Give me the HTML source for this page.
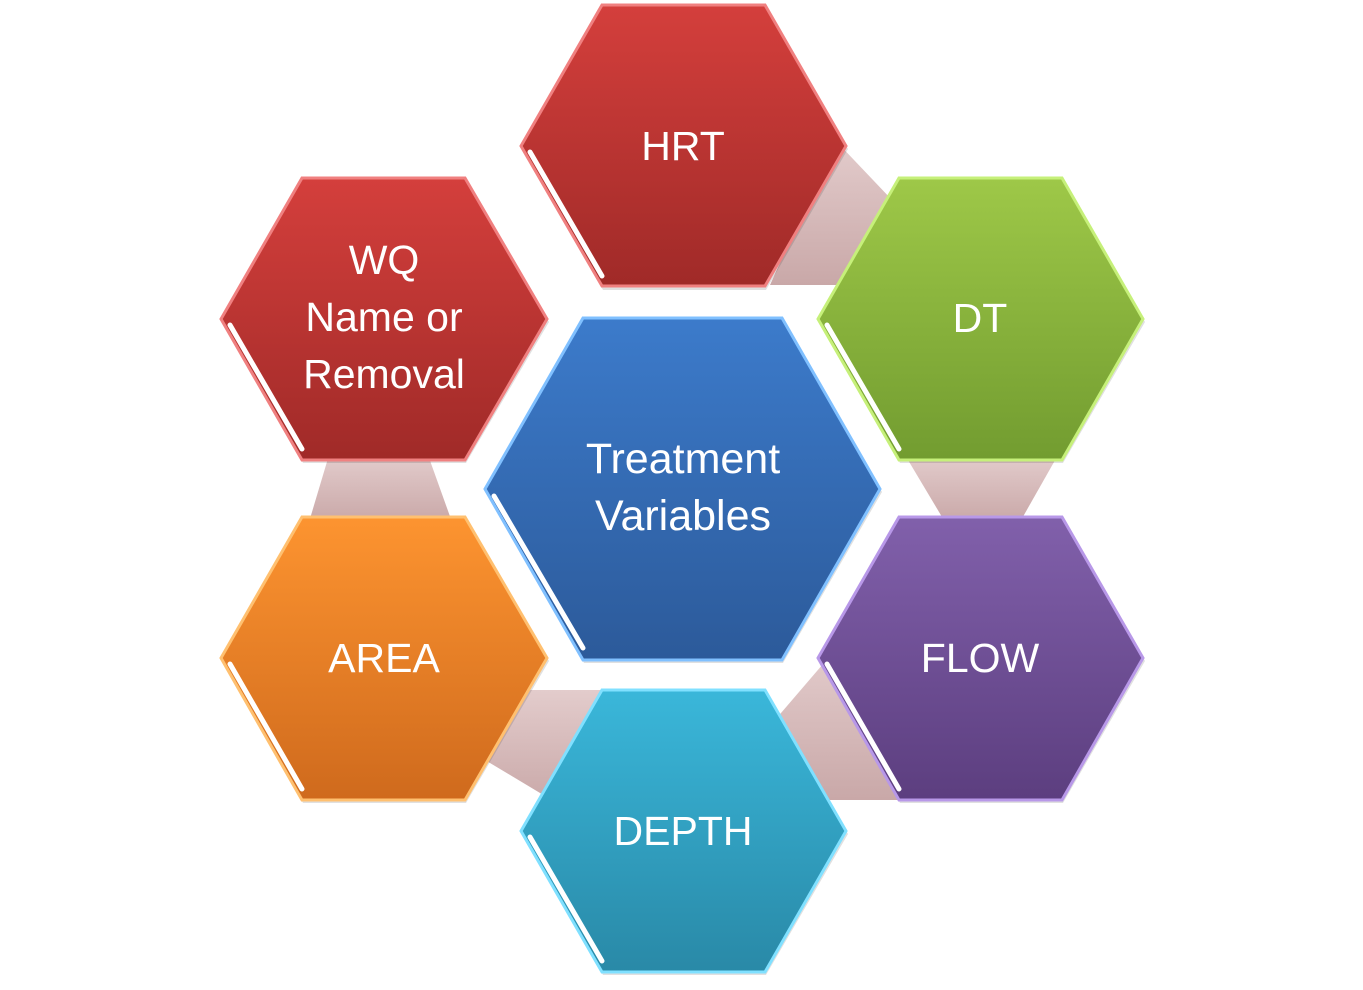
<!DOCTYPE html>
<html><head><meta charset="utf-8"><style>
html,body{margin:0;padding:0;background:#fff;}
svg{display:block}
text{font-family:"Liberation Sans",sans-serif;fill:#fff;text-anchor:middle;}
</style></head><body>
<svg width="1363" height="990" viewBox="0 0 1363 990" xmlns="http://www.w3.org/2000/svg">
<defs>
<linearGradient id="band" x1="0" y1="0" x2="0" y2="1"><stop offset="0" stop-color="#e3cccc"/><stop offset="1" stop-color="#c9a8a8"/></linearGradient>
<linearGradient id="red" x1="0" y1="0" x2="0" y2="1"><stop offset="0" stop-color="#d43f3c"/><stop offset="1" stop-color="#a02a28"/></linearGradient>
<linearGradient id="green" x1="0" y1="0" x2="0" y2="1"><stop offset="0" stop-color="#9ec848"/><stop offset="1" stop-color="#729c30"/></linearGradient>
<linearGradient id="blue" x1="0" y1="0" x2="0" y2="1"><stop offset="0" stop-color="#3c7bcb"/><stop offset="1" stop-color="#2c5a9a"/></linearGradient>
<linearGradient id="purple" x1="0" y1="0" x2="0" y2="1"><stop offset="0" stop-color="#8160ab"/><stop offset="1" stop-color="#5c3e7f"/></linearGradient>
<linearGradient id="cyan" x1="0" y1="0" x2="0" y2="1"><stop offset="0" stop-color="#3ab7da"/><stop offset="1" stop-color="#2989a7"/></linearGradient>
<linearGradient id="orange" x1="0" y1="0" x2="0" y2="1"><stop offset="0" stop-color="#fd9430"/><stop offset="1" stop-color="#cf6a1d"/></linearGradient>
</defs>
<!-- connector bands -->
<polygon points="835,140 892,200 850,285 770,285" fill="url(#band)"/>
<polygon points="905,455 1058,455 1020,522 945,522" fill="url(#band)"/>
<polygon points="835,650 905,800 815,800 775,720" fill="url(#band)"/>
<polygon points="495,690 605,690 560,805 485,760" fill="url(#band)"/>
<polygon points="329,455 428,455 452,522 309,522" fill="url(#band)"/>

<!-- hexes -->
<g id="hexes">
<!-- HRT -->
<polygon points="522,149 603,8 766,8 848,149 766,290 603,290" fill="#000" opacity="0.12"/>
<polygon points="521,146 602,5 765,5 846,146 765,286 602,286" fill="url(#red)" stroke="#f08080" stroke-width="3"/>
<line x1="530" y1="152" x2="602" y2="276" stroke="#fff" stroke-width="5" stroke-linecap="round"/>
<text x="683" y="160" font-size="41">HRT</text>
<!-- WQ -->
<polygon points="222,322 303,181 466,181 549,322 466,463 303,463" fill="#000" opacity="0.12"/>
<polygon points="221,319 302,178 465,178 547,319 465,460 302,460" fill="url(#red)" stroke="#f08080" stroke-width="3"/>
<line x1="230" y1="325" x2="302" y2="449" stroke="#fff" stroke-width="5" stroke-linecap="round"/>
<text x="384" y="274" font-size="41">WQ</text>
<text x="384" y="331" font-size="41">Name or</text>
<text x="384" y="388" font-size="41">Removal</text>
<!-- DT -->
<polygon points="819,322 900,181 1063,181 1145,322 1063,463 900,463" fill="#000" opacity="0.12"/>
<polygon points="818,319 899,178 1062,178 1143,319 1062,460 899,460" fill="url(#green)" stroke="#c6f07a" stroke-width="3"/>
<line x1="827" y1="325" x2="899" y2="449" stroke="#fff" stroke-width="5" stroke-linecap="round"/>
<text x="980" y="332" font-size="41">DT</text>
<!-- AREA -->
<polygon points="222,661 303,520 466,520 549,661 466,803 303,803" fill="#000" opacity="0.12"/>
<polygon points="221,658 302,517 465,517 547,658 465,800 302,800" fill="url(#orange)" stroke="#ffc070" stroke-width="3"/>
<line x1="230" y1="664" x2="302" y2="789" stroke="#fff" stroke-width="5" stroke-linecap="round"/>
<text x="384" y="672" font-size="41">AREA</text>
<!-- FLOW -->
<polygon points="819,661 900,520 1063,520 1145,661 1063,803 900,803" fill="#000" opacity="0.12"/>
<polygon points="818,658 899,517 1062,517 1143,658 1062,800 899,800" fill="url(#purple)" stroke="#b898e8" stroke-width="3"/>
<line x1="827" y1="664" x2="899" y2="789" stroke="#fff" stroke-width="5" stroke-linecap="round"/>
<text x="980" y="672" font-size="41">FLOW</text>
<!-- DEPTH -->
<polygon points="522,834 603,693 766,693 848,834 766,975 603,975" fill="#000" opacity="0.12"/>
<polygon points="521,831 602,690 765,690 846,831 765,972 602,972" fill="url(#cyan)" stroke="#80e0ff" stroke-width="3"/>
<line x1="530" y1="837" x2="602" y2="961" stroke="#fff" stroke-width="5" stroke-linecap="round"/>
<text x="683" y="845" font-size="41">DEPTH</text>
<!-- Center -->
<polygon points="486,492 584,321 783,321 882,492 783,663 584,663" fill="#000" opacity="0.12"/>
<polygon points="485,489 583,318 782,318 880,489 782,660 583,660" fill="url(#blue)" stroke="#80c0ff" stroke-width="3"/>
<line x1="494" y1="496" x2="583" y2="648" stroke="#fff" stroke-width="5" stroke-linecap="round"/>
<text x="683" y="473" font-size="43">Treatment</text>
<text x="683" y="530" font-size="43">Variables</text>
</g>
</svg>
</body></html>
